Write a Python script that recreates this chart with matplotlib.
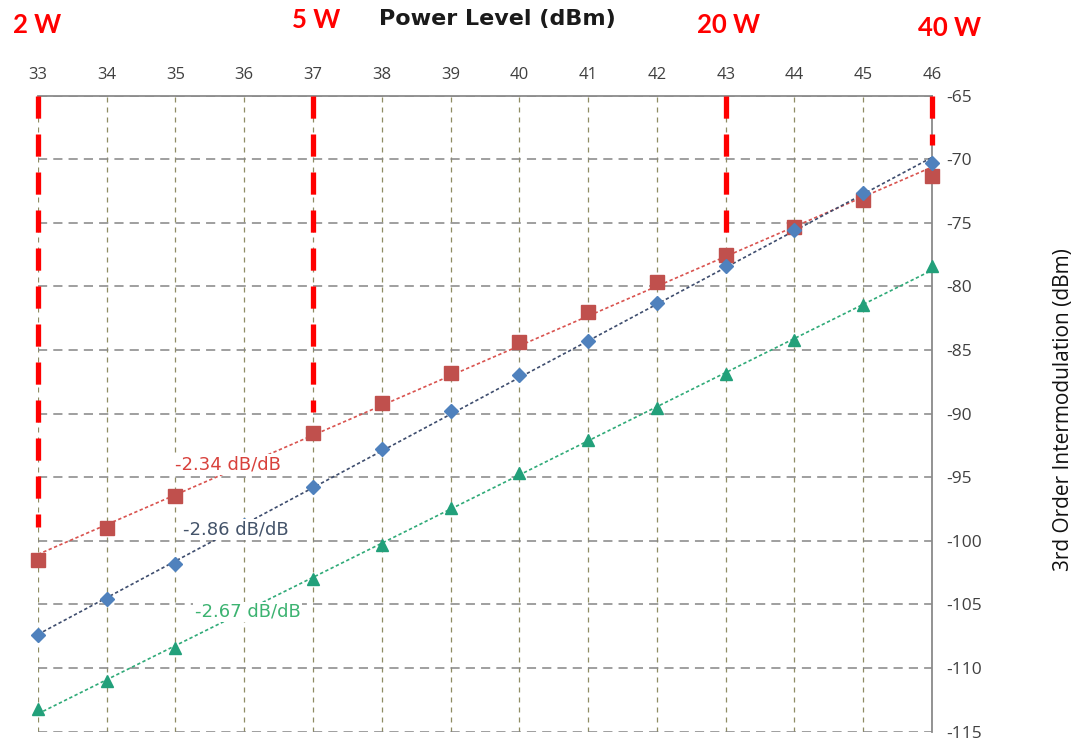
import numpy as np
import matplotlib.pyplot as plt

# power level (dBm) and measured IM3 (dBm) for three units
power = [33, 34, 35, 36, 37, 38, 39, 40, 41, 42, 43, 44, 45, 46]
im3_red = [-101.5, -99.0, -96.5, -94.0, -91.5, -89.2, -86.8, -84.4, -82.0, -79.7, -77.5, -75.3, -73.2, -71.3]
im3_blue = [-107.4, -104.6, -101.8, -98.8, -95.8, -92.8, -89.8, -87.0, -84.3, -81.3, -78.4, -75.6, -72.7, -70.3]
im3_green = [-113.2, -111.0, -108.4, -105.7, -103.0, -100.3, -97.4, -94.7, -92.1, -89.6, -86.9, -84.2, -81.5, -78.4]

slope_labels = ['-2.34 dB/dB', '-2.86 dB/dB', '-2.67 dB/dB']

# watt markers: power level, label, lowest point of the red dashed line
watt_pos = [33, 37, 43, 46]
watt_text = ['2 W', '5 W', '20 W', '40 W']
watt_end = [-98.9, -89.9, -76.9, -68.9]

yticks = [-65, -70, -75, -80, -85, -90, -95, -100, -105, -110, -115]

fig = plt.figure(figsize=(10.75, 7.41), dpi=100)
ax = fig.add_axes([0.0353, 0.0128, 0.8317, 0.8583])

ax.set_xlim(33, 46)
ax.set_ylim(-115, -65)

# grid
for x in power:
    ax.axvline(x, color='#8f8c63', lw=0.9, ls=(0, (4, 4)), zorder=0)
for y in yticks:
    ax.axhline(y, color='#858585', lw=1.1, ls=(0, (6, 4)), zorder=0)

series = [
    (im3_red, 's', '#c0504d', '#d9534f', slope_labels[0], '#d8413c', 35.76, -94.0),
    (im3_blue, 'D', '#4f81bd', '#3e4d6e', slope_labels[1], '#44546a', 35.88, -99.1),
    (im3_green, '^', '#22a07a', '#2faa78', slope_labels[2], '#3cb371', 36.05, -105.6),
]

for vals, mk, mcol, lcol, lab, tcol, tx, ty in series:
    k, b = np.polyfit(power, vals, 1)
    xs = np.array([power[0], power[-1]])
    ax.plot(xs, k * xs + b, color=lcol, lw=1.2, ls=(0, (2, 1.5)), zorder=2)
    ms = {'s': 9.5, 'D': 6.8, '^': 8}[mk]
    ax.plot(power, vals, ls='none', marker=mk, ms=ms, color=mcol, zorder=3, clip_on=False)
    ax.text(tx, ty, lab, color=tcol, fontsize=13, family='DejaVu Sans', ha='center', va='center',
            bbox=dict(facecolor='white', edgecolor='none', pad=1.0), zorder=4)

# red dashed lines for the watt levels
for x, lab, yend in zip(watt_pos, watt_text, watt_end):
    ax.plot([x, x], [-65, yend], color='#ff0000', lw=3.8, ls=(0, (4.2, 3.0)), zorder=5,
            solid_capstyle='butt', clip_on=False)

# watt labels above the axis
watt_x_px = [37, 316, 729, 950]
watt_y_px = [25, 20, 25, 28]
for lab, px, py in zip(watt_text, watt_x_px, watt_y_px):
    fig.text(px / 1075, 1 - py / 741, lab, color='#ff0000', fontsize=18.5, fontweight='bold',
             family='Lato', ha='center', va='center')

fig.text(497 / 1075, 1 - 19 / 741, 'Power Level (dBm)', fontsize=16, fontweight='bold',
         family='DejaVu Sans', ha='center', va='center', color='#1a1a1a')

ax.xaxis.tick_top()
ax.set_xticks(power)
ax.set_xticklabels([str(p) for p in power], fontsize=12, family='Open Sans', color='#404040')
ax.yaxis.tick_right()
ax.set_yticks(yticks)
ax.set_yticklabels([str(y) for y in yticks], fontsize=12.5, family='Open Sans', color='#404040')
ax.tick_params(axis='x', length=0, pad=9)
ax.tick_params(axis='y', length=0, pad=10)

for s in ['left', 'bottom']:
    ax.spines[s].set_visible(False)
for s in ['top', 'right']:
    ax.spines[s].set_color('#8a8a8a')
    ax.spines[s].set_linewidth(1.3)

fig.text(1063 / 1075, 1 - 410 / 741, '3rd Order Intermodulation (dBm)', rotation=90,
         fontsize=15, family='Open Sans', ha='center', va='center', color='#111111')

fig.savefig('out.png', dpi=100)
